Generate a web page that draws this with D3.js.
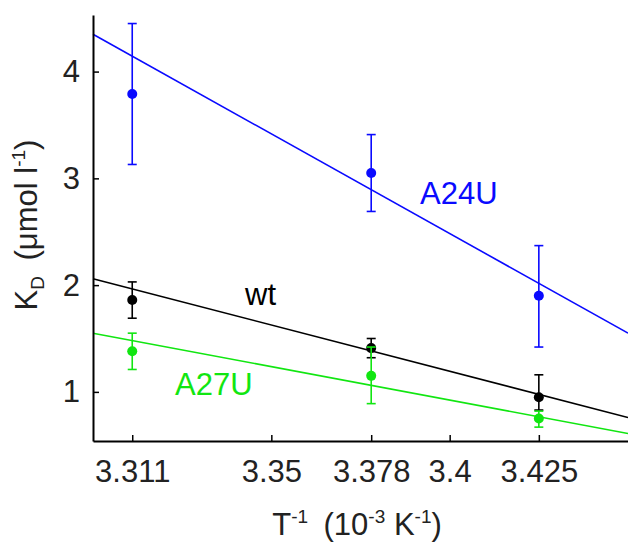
<!DOCTYPE html>
<html>
<head>
<meta charset="utf-8">
<script src="https://cdn.jsdelivr.net/npm/d3@7"></script>
<style>
  body { margin: 0; background: #fff; }
  text { font-family: "Liberation Sans", Arial, sans-serif; }
</style>
</head>
<body>
<svg id="canvas" width="628" height="545"></svg>
<script>
// inverse temperature, 10^-3 K^-1
let temps = [3.311, 3.378, 3.425]
let xTicks = [3.311, 3.35, 3.378, 3.4, 3.425]
let yTicks = [1, 2, 3, 4]

// K_D in umol/l, with lower / upper error bar ends
let a24u = [3.79, 3.05, 1.90]
let a24uLow = [3.13, 2.69, 1.42]
let a24uHigh = [4.45, 3.41, 2.37]

let wt = [1.86, 1.41, 0.95]
let wtLow = [1.69, 1.32, 0.83]
let wtHigh = [2.03, 1.50, 1.16]

let a27u = [1.38, 1.15, 0.75]
let a27uLow = [1.21, 0.89, 0.67]
let a27uHigh = [1.55, 1.42, 0.82]

// fitted lines, value at each end of the x range
let fitX = [3.30, 3.45]
let a24uFit = [4.35, 1.55]
let wtFit = [2.06, 0.76]
let a27uFit = [1.55, 0.61]

let series = [
    {name: "A24U", color: "#0a0aff", y: a24u, lo: a24uLow, hi: a24uHigh, fit: a24uFit, lx: 420, ly: 204},
    {name: "wt", color: "#000000", y: wt, lo: wtLow, hi: wtHigh, fit: wtFit, lx: 245, ly: 305},
    {name: "A27U", color: "#11e611", y: a27u, lo: a27uLow, hi: a27uHigh, fit: a27uFit, lx: 175, ly: 395}
]

let plotLeft = 93, plotRight = 628, plotTop = 15, plotBottom = 441

let canvas = d3.select("#canvas")

let xScale = d3.scaleLinear().domain([3.30, 3.45]).range([plotLeft, plotRight])
let yScale = d3.scaleLinear().domain([0.54, 4.53]).range([plotBottom, plotTop])

let drawAxes = () => {
    let xAxis = d3.axisBottom(xScale)
        .tickValues(xTicks)
        .tickFormat(d => String(d))
        .tickSizeInner(-6)
        .tickSizeOuter(0)
        .tickPadding(19)
    let yAxis = d3.axisLeft(yScale)
        .tickValues(yTicks)
        .tickFormat(d3.format("d"))
        .tickSizeInner(-6)
        .tickSizeOuter(0)
        .tickPadding(13)

    let gx = canvas.append("g")
        .attr("transform", "translate(0," + plotBottom + ")")
        .call(xAxis)
    let gy = canvas.append("g")
        .attr("transform", "translate(" + plotLeft + ",0)")
        .call(yAxis)

    for (let g of [gx, gy]) {
        g.select(".domain").attr("stroke", "#000").attr("stroke-width", 2)
        g.selectAll(".tick line").attr("stroke", "#000").attr("stroke-width", 1.5)
        g.selectAll(".tick text")
            .attr("fill", "#222")
            .style("font-size", "31px")
            .style("font-family", "Liberation Sans, Arial, sans-serif")
    }

    // x label
    let xl = canvas.append("text")
        .attr("x", 357)
        .attr("y", 535)
        .attr("text-anchor", "middle")
        .attr("fill", "#222")
        .style("font-size", "31px")
    xl.append("tspan").text("T")
    xl.append("tspan").attr("dy", -12).style("font-size", "19px").text("-1")
    xl.append("tspan").attr("dy", 12).text("\u2002(10")
    xl.append("tspan").attr("dy", -12).style("font-size", "19px").text("-3")
    xl.append("tspan").attr("dy", 12).text(" K")
    xl.append("tspan").attr("dy", -12).style("font-size", "19px").text("-1")
    xl.append("tspan").attr("dy", 12).text(")")

    // y label
    let yl = canvas.append("text")
        .attr("transform", "translate(37,225) rotate(-90)")
        .attr("text-anchor", "middle")
        .attr("fill", "#222")
        .style("font-size", "31px")
    yl.append("tspan").text("K")
    yl.append("tspan").attr("dy", 7).style("font-size", "19px").text("D")
    yl.append("tspan").attr("dy", -7).text("\u2002(\u03bcmol l")
    yl.append("tspan").attr("dy", -12).style("font-size", "19px").text("-1")
    yl.append("tspan").attr("dy", 12).text(")")
}

let drawSeries = () => {
    let line = d3.line()
        .x((d, i) => xScale(fitX[i]))
        .y(d => yScale(d))

    let groups = canvas.selectAll("g.series")
        .data(series)
        .enter()
        .append("g")
        .attr("class", "series")

    groups.append("path")
        .attr("d", s => line(s.fit))
        .attr("fill", "none")
        .attr("stroke", s => s.color)
        .attr("stroke-width", 1.6)

    groups.each(function (s) {
        let g = d3.select(this)
        temps.forEach((t, i) => {
            let x = xScale(t)
            g.append("line")
                .attr("x1", x).attr("x2", x)
                .attr("y1", yScale(s.lo[i])).attr("y2", yScale(s.hi[i]))
                .attr("stroke", s.color).attr("stroke-width", 1.6)
            for (let v of [s.lo[i], s.hi[i]]) {
                g.append("line")
                    .attr("x1", x - 4.5).attr("x2", x + 4.5)
                    .attr("y1", yScale(v)).attr("y2", yScale(v))
                    .attr("stroke", s.color).attr("stroke-width", 1.6)
            }
            g.append("circle")
                .attr("cx", x)
                .attr("cy", yScale(s.y[i]))
                .attr("r", 5)
                .attr("fill", s.color)
        })
        g.append("text")
            .attr("x", s.lx)
            .attr("y", s.ly)
            .attr("fill", s.color)
            .style("font-size", "31px")
            .text(s.name)
    })
}

drawSeries()
drawAxes()
</script>
</body>
</html>
